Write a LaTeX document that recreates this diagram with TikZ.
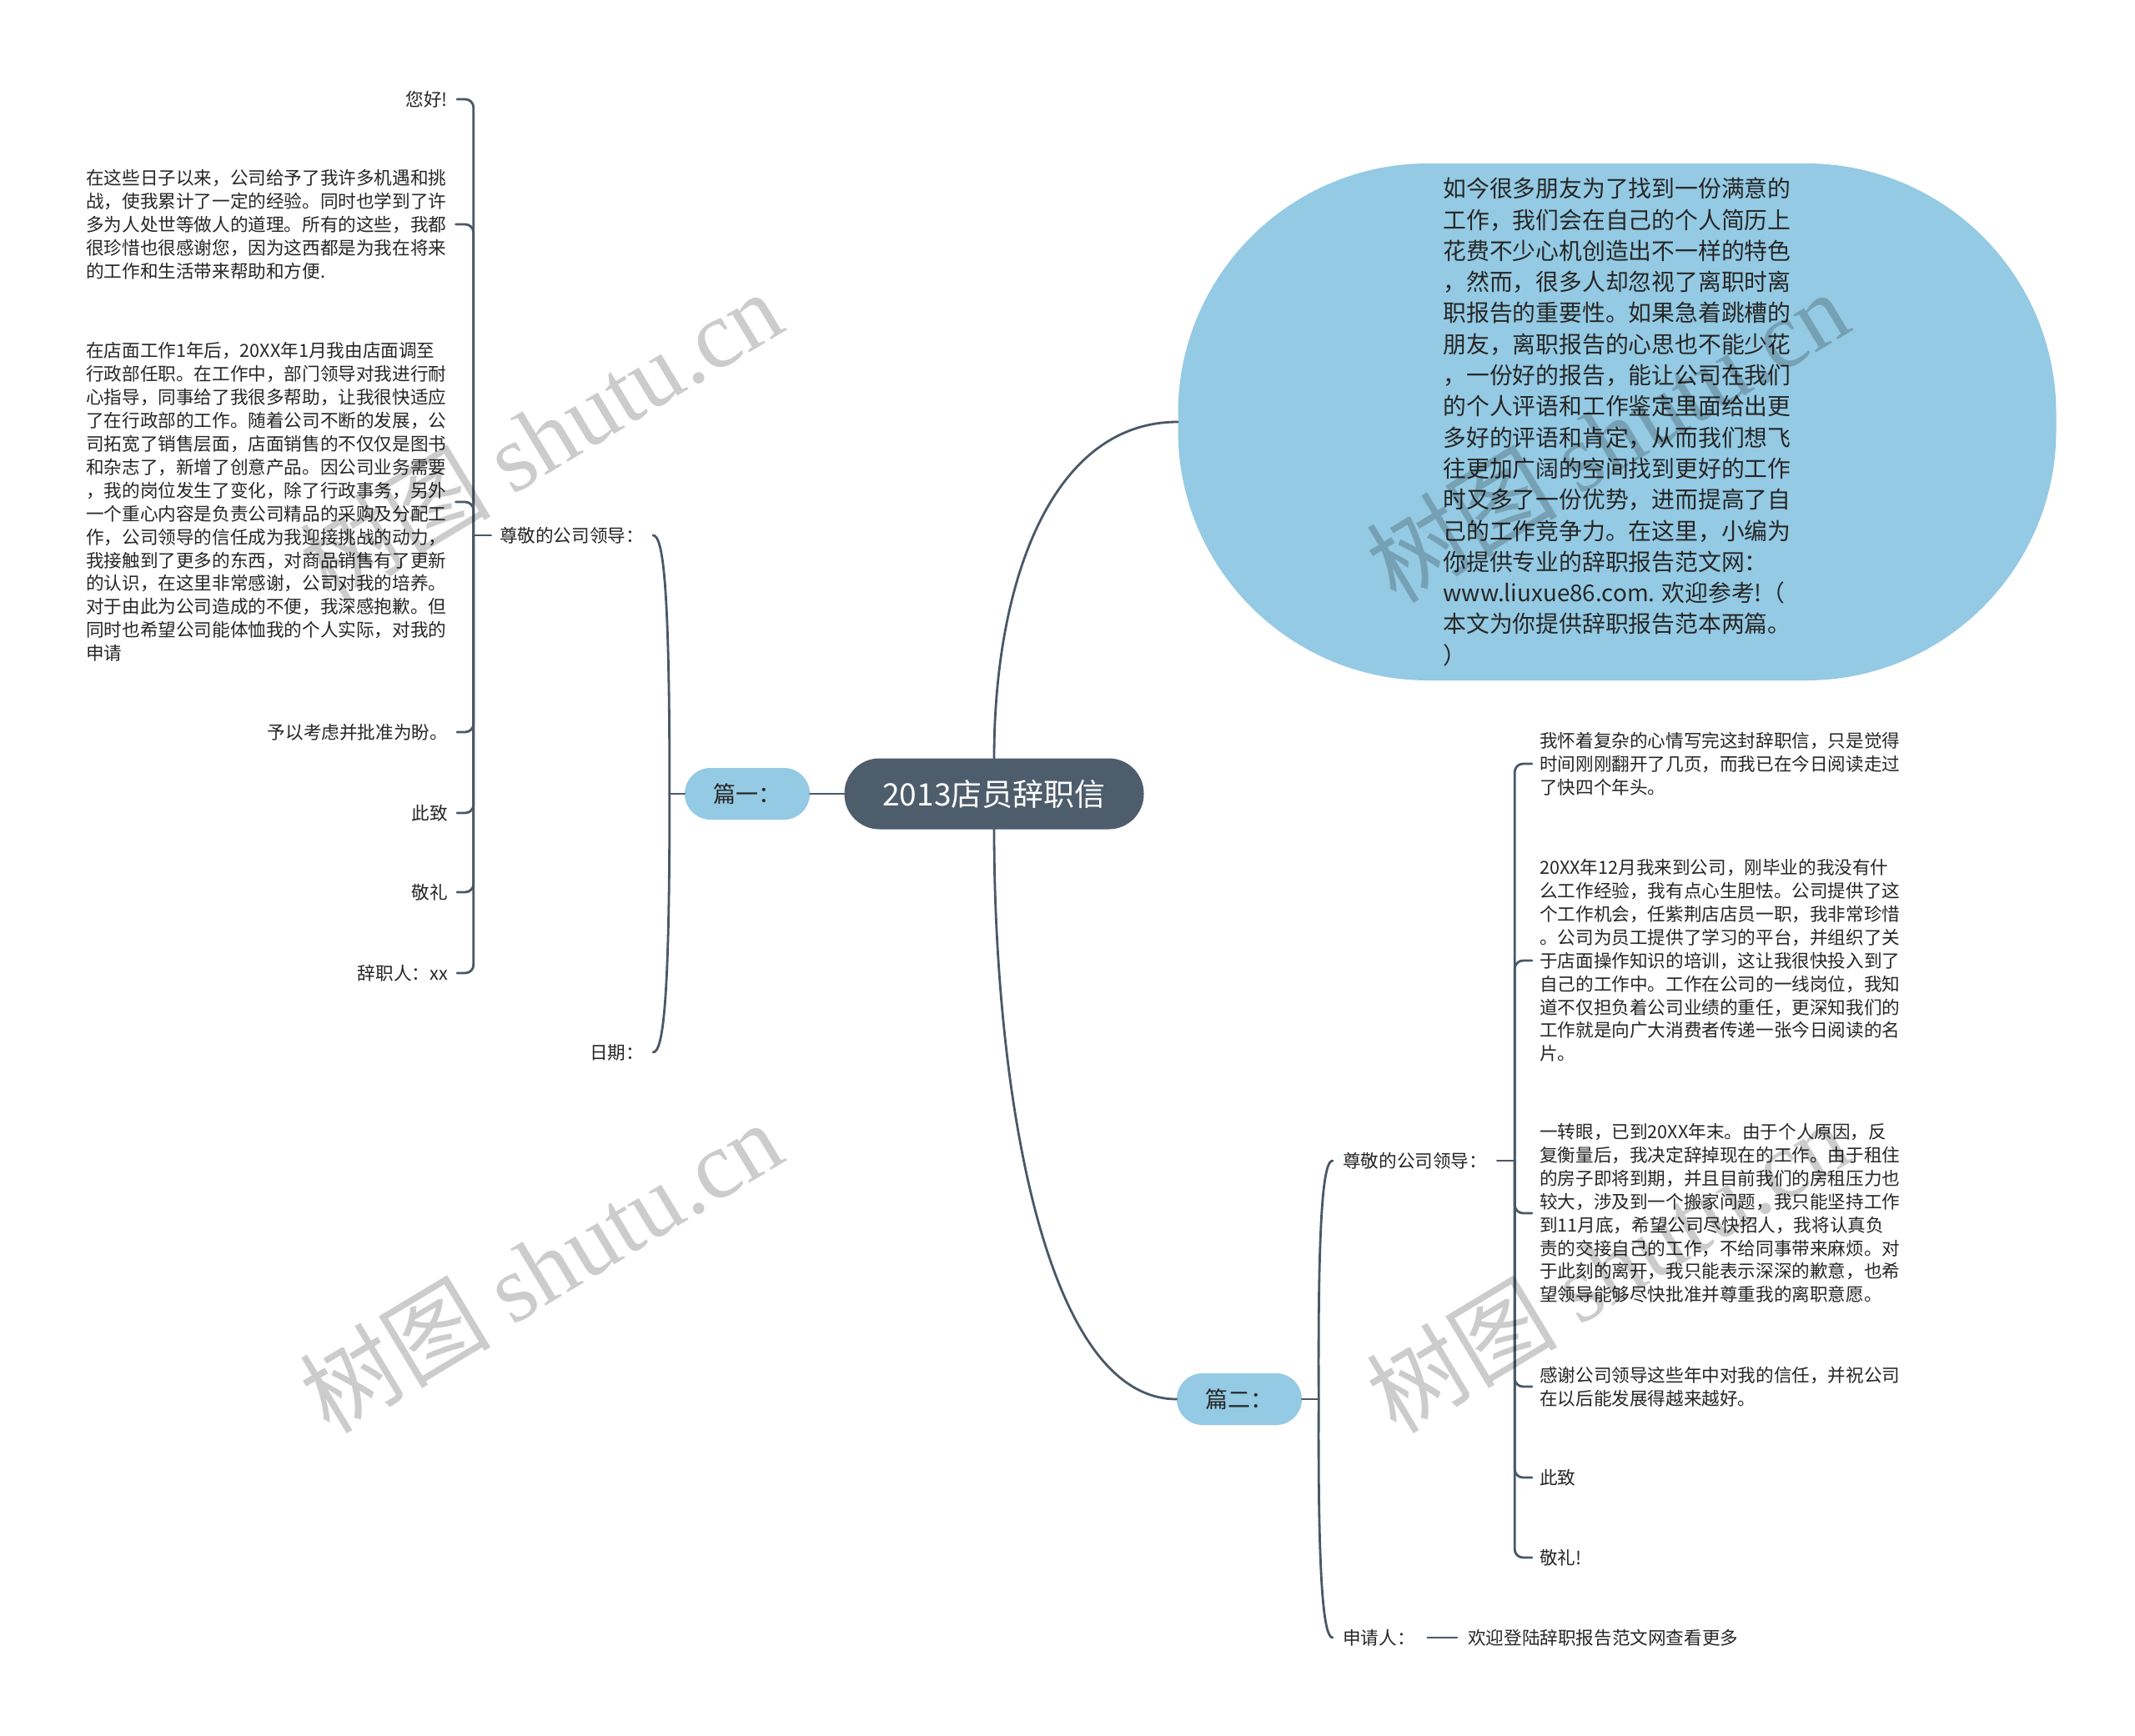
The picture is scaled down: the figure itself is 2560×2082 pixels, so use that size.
\documentclass[tikz,border=0pt]{standalone}
\usepackage{fontspec}
\setmainfont{Noto Sans CJK SC}
\newfontfamily\wmserif{Liberation Serif}
\usetikzlibrary{calc}
\definecolor{lineC}{HTML}{4A5866}
\definecolor{darkN}{HTML}{4E5D6C}
\definecolor{lightN}{HTML}{94CAE3}
\definecolor{txt}{HTML}{262626}
\tikzset{
  conn/.style={draw=lineC, line width=2.8pt, line cap=round},
  bracket/.style={conn, rounded corners=10pt},
  smalltext/.style={font=\fontsize{21.6}{27.9}\selectfont, text=txt, inner sep=0pt, align=left},
  pill/.style={fill=lightN, minimum width=150pt, minimum height=62pt, rounded corners=31pt, font=\fontsize{27}{30}\selectfont, text=txt, inner sep=0pt},
  rootnode/.style={fill=darkN, minimum width=359pt, minimum height=85pt, rounded corners=42pt, font=\fontsize{37}{40}\selectfont, text=white, inner sep=0pt},
  bubble/.style={fill=lightN, minimum width=1053pt, minimum height=620pt, rounded corners=300pt, font=\fontsize{27.8}{37.3}\selectfont, text=txt, align=left, inner sep=0pt},
  watermark/.style={font=\fontsize{115}{120}\selectfont, text=black, opacity=0.2, rotate=31, inner sep=0pt}
}
\begin{document}
\begin{tikzpicture}[x=1pt,y=-1pt]
\path[fill=white] (0,0) rectangle (2560,2082);
\useasboundingbox (0,0) rectangle (2560,2082);

% main nodes
\node[rootnode] (C) at (1192,952) {2013店员辞职信};
\node[pill] (P1) at (896,952) {篇一：};
\node[pill] (P2) at (1486,1678) {篇二：};
\node[bubble] (E) at (1939,506) {如今很多朋友为了找到一份满意的\\
工作，我们会在自己的个人简历上\\
花费不少心机创造出不一样的特色\\
，然而，很多人却忽视了离职时离\\
职报告的重要性。如果急着跳槽的\\
朋友，离职报告的心思也不能少花\\
，一份好的报告，能让公司在我们\\
的个人评语和工作鉴定里面给出更\\
多好的评语和肯定，从而我们想飞\\
往更加广阔的空间找到更好的工作\\
时又多了一份优势，进而提高了自\\
己的工作竞争力。在这里，小编为\\
你提供专业的辞职报告范文网：\\
www.liuxue86.com. 欢迎参考!（\\
本文为你提供辞职报告范本两篇。\\
）};

% left branch (篇一)
\node[smalltext, anchor=east] (A1) at (772,642) {尊敬的公司领导：};
\node[smalltext, anchor=east] (A2) at (772,1262) {日期：};

\node[smalltext, anchor=east] (L1) at (537,119) {您好!};
\node[smalltext, anchor=west] (L2) at (103,269) {在这些日子以来，公司给予了我许多机遇和挑\\
战，使我累计了一定的经验。同时也学到了许\\
多为人处世等做人的道理。所有的这些，我都\\
很珍惜也很感谢您，因为这西都是为我在将来\\
的工作和生活带来帮助和方便.};
\node[smalltext, anchor=west] (L3) at (103,602) {在店面工作1年后，20XX年1月我由店面调至\\
行政部任职。在工作中，部门领导对我进行耐\\
心指导，同事给了我很多帮助，让我很快适应\\
了在行政部的工作。随着公司不断的发展，公\\
司拓宽了销售层面，店面销售的不仅仅是图书\\
和杂志了，新增了创意产品。因公司业务需要\\
，我的岗位发生了变化，除了行政事务，另外\\
一个重心内容是负责公司精品的采购及分配工\\
作，公司领导的信任成为我迎接挑战的动力，\\
我接触到了更多的东西，对商品销售有了更新\\
的认识，在这里非常感谢，公司对我的培养。\\
对于由此为公司造成的不便，我深感抱歉。但\\
同时也希望公司能体恤我的个人实际，对我的\\
申请};
\node[smalltext, anchor=east] (L4) at (537,878) {予以考虑并批准为盼。};
\node[smalltext, anchor=east] (L5) at (537,975) {此致};
\node[smalltext, anchor=east] (L6) at (537,1070) {敬礼};
\node[smalltext, anchor=east] (L7) at (537,1167) {辞职人：xx};

% right branch (篇二)
\node[smalltext, anchor=west] (B1) at (1610,1392) {尊敬的公司领导：};
\node[smalltext, anchor=west] (B2) at (1610,1964) {申请人：};
\node[smalltext, anchor=west] (B3) at (1760,1964) {欢迎登陆辞职报告范文网查看更多};

\node[smalltext, anchor=west] (R1) at (1846,916) {我怀着复杂的心情写完这封辞职信，只是觉得\\
时间刚刚翻开了几页，而我已在今日阅读走过\\
了快四个年头。};
\node[smalltext, anchor=west] (R2) at (1846,1152) {20XX年12月我来到公司，刚毕业的我没有什\\
么工作经验，我有点心生胆怯。公司提供了这\\
个工作机会，任紫荆店店员一职，我非常珍惜\\
。公司为员工提供了学习的平台，并组织了关\\
于店面操作知识的培训，这让我很快投入到了\\
自己的工作中。工作在公司的一线岗位，我知\\
道不仅担负着公司业绩的重任，更深知我们的\\
工作就是向广大消费者传递一张今日阅读的名\\
片。};
\node[smalltext, anchor=west] (R3) at (1846,1455) {一转眼，已到20XX年末。由于个人原因，反\\
复衡量后，我决定辞掉现在的工作。由于租住\\
的房子即将到期，并且目前我们的房租压力也\\
较大，涉及到一个搬家问题，我只能坚持工作\\
到11月底，希望公司尽快招人，我将认真负\\
责的交接自己的工作，不给同事带来麻烦。对\\
于此刻的离开，我只能表示深深的歉意，也希\\
望领导能够尽快批准并尊重我的离职意愿。};
\node[smalltext, anchor=west] (R4) at (1846,1663) {感谢公司领导这些年中对我的信任，并祝公司\\
在以后能发展得越来越好。};
\node[smalltext, anchor=west] (R5) at (1846,1772) {此致};
\node[smalltext, anchor=west] (R6) at (1846,1868) {敬礼!};

% connectors from root
\draw[conn] (C.west) -- (P1.east);
\draw[conn] (C.north) .. controls (1192,700) and (1260,506) .. (E.west);
\draw[conn] (C.south) .. controls (1192,1300) and (1250,1678) .. (P2.west);

% 篇一 bracket
\coordinate (j1) at ($(P1.west)+(-18,0)$);
\draw[conn] (P1.west) -- (j1);
\draw[conn] (j1) .. controls (803,700) and (795,642) .. ($(A1.east)+(11,0)$);
\draw[conn] (j1) .. controls (803,1204) and (795,1262) .. ($(A2.east)+(11,0)$);

% 尊敬的公司领导 (left) bracket
\coordinate (tL) at ($(A1.west)+(-31,0)$);
\draw[conn] ($(A1.west)+(-10,0)$) -- (tL);
\foreach \n in {L1,L2,L3,L4,L5,L6,L7}
  \draw[bracket] (tL) |- ($(\n.east)+(11,0)$);

% 篇二 bracket
\coordinate (j2) at ($(P2.east)+(20,0)$);
\draw[conn] (P2.east) -- (j2);
\draw[conn] (j2) .. controls (1580,1440) and (1588,1392) .. ($(B1.west)+(-12,0)$);
\draw[conn] (j2) .. controls (1580,1910) and (1588,1964) .. ($(B2.west)+(-12,0)$);
\draw[conn] ($(B2.east)+(15,0)$) -- ($(B3.west)+(-13,0)$);

% 尊敬的公司领导 (right) bracket
\coordinate (tR) at ($(B1.east)+(33,0)$);
\draw[conn] ($(B1.east)+(12,0)$) -- (tR);
\foreach \n in {R1,R2,R3,R4,R5,R6}
  \draw[bracket] (tR) |- ($(\n.west)+(-9,0)$);

% watermarks
\node[watermark] (W1) at (648,523) {树图 {\wmserif shutu.cn}};
\node[watermark] (W2) at (648,1519) {树图 {\wmserif shutu.cn}};
\node[watermark] (W3) at (1927,523) {树图 {\wmserif shutu.cn}};
\node[watermark] (W4) at (1927,1519) {树图 {\wmserif shutu.cn}};
\end{tikzpicture}
\end{document}
